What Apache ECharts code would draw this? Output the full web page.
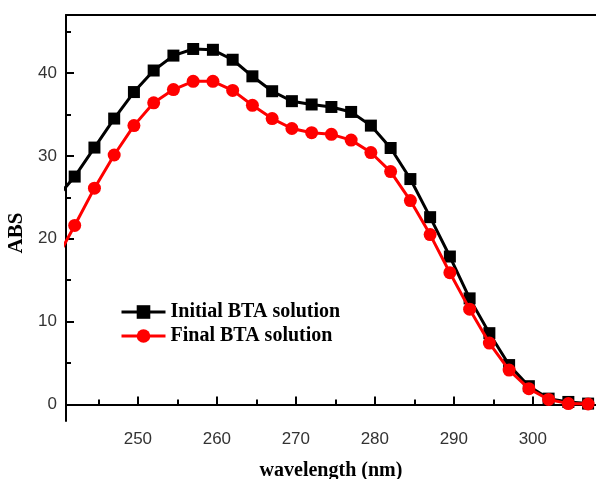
<!DOCTYPE html>
<html>
<head>
<meta charset="utf-8">
<script src="https://cdn.jsdelivr.net/npm/echarts@6/dist/echarts.min.js"></script>
<style>
  html, body { margin: 0; padding: 0; background: #fff; }
  #chart { width: 596px; height: 479px; }
</style>
</head>
<body>
<div id="chart"></div>
<script>
// wavelength (nm), one reading every 2.5 nm
var wavelength = [239.5, 242, 244.5, 247, 249.5, 252, 254.5, 257, 259.5, 262, 264.5, 267, 269.5, 272,
  274.5, 277, 279.5, 282, 284.5, 287, 289.5, 292, 294.5, 297, 299.5, 302, 304.5, 307]
var initialAbs = [24.7, 27.5, 31.0, 34.5, 37.7, 40.3, 42.1, 42.9, 42.8, 41.6, 39.6, 37.8, 36.6, 36.2,
  35.9, 35.3, 33.65, 30.95, 27.2, 22.6, 17.85, 12.8, 8.6, 4.75, 2.2, 0.7, 0.3, 0.1]
var finalAbs = [17.2, 21.6, 26.1, 30.1, 33.65, 36.4, 38.0, 39.0, 39.0, 37.9, 36.1, 34.5, 33.3, 32.8,
  32.6, 31.9, 30.4, 28.1, 24.6, 20.5, 15.9, 11.5, 7.4, 4.15, 1.9, 0.6, 0.1, 0.05]

var xTicks = [250, 260, 270, 280, 290, 300]
var xMinorTicks = [245, 255, 265, 275, 285, 295, 305]
var yTicks = [0, 10, 20, 30, 40]
var yMinorTicks = [5, 15, 25, 35, 45]

var seriesNames = ['Initial BTA solution', 'Final BTA solution']

function pairs(xs, ys) {
  return xs.map(function (x, i) { return [x, ys[i]] })
}

var serif = 'Liberation Serif'
var sans = 'Liberation Sans'
var xRange = { min: 240.9, max: 308 }
var yRange = { min: -2, max: 47 }

var chart = echarts.init(document.getElementById('chart'))
chart.setOption({
  animation: false,
  backgroundColor: '#fff',
  grid: {
    left: 66,
    right: 0,
    top: 15,
    bottom: 58,
    containLabel: false,
    outerBoundsMode: 'none'
  },
  legend: {
    orient: 'vertical',
    left: 115,
    top: 297,
    itemWidth: 44,
    itemHeight: 17,
    itemGap: 4,
    data: seriesNames,
    lineStyle: { width: 3 },
    textStyle: {
      fontFamily: serif,
      fontWeight: 'bold',
      fontSize: 20,
      color: '#000'
    }
  },
  xAxis: [{
    type: 'value',
    position: 'bottom',
    min: xRange.min,
    max: xRange.max,
    name: 'wavelength (nm)',
    nameLocation: 'middle',
    nameGap: 40,
    nameTextStyle: { fontFamily: serif, fontWeight: 'bold', fontSize: 20, color: '#000' },
    axisLine: { lineStyle: { color: '#000', width: 2 } },
    axisTick: { inside: true, length: 8, customValues: xTicks, lineStyle: { color: '#000', width: 2 } },
    axisLabel: {
      customValues: xTicks,
      margin: 10,
      fontFamily: sans,
      fontSize: 17,
      color: '#333'
    },
    splitLine: { show: false }
  }, {
    type: 'value',
    position: 'bottom',
    min: xRange.min,
    max: xRange.max,
    axisLine: { show: false },
    axisTick: { inside: true, length: 5, customValues: xMinorTicks, lineStyle: { color: '#000', width: 2 } },
    axisLabel: { show: false },
    splitLine: { show: false }
  }, {
    type: 'value',
    position: 'top',
    min: xRange.min,
    max: xRange.max,
    axisLine: { lineStyle: { color: '#000', width: 2 } },
    axisTick: { show: false },
    axisLabel: { show: false },
    splitLine: { show: false }
  }],
  yAxis: [{
    type: 'value',
    position: 'left',
    min: yRange.min,
    max: yRange.max,
    name: 'ABS',
    nameLocation: 'middle',
    nameGap: 35,
    nameTextStyle: {
      fontFamily: serif,
      fontWeight: 'bold',
      fontSize: 21,
      color: '#000',
      padding: [0, 30, 0, 0]
    },
    axisLine: { lineStyle: { color: '#000', width: 2 } },
    axisTick: { inside: true, length: 8, customValues: yTicks, lineStyle: { color: '#000', width: 2 } },
    axisLabel: {
      customValues: yTicks,
      margin: 9,
      fontFamily: sans,
      fontSize: 17,
      color: '#333'
    },
    splitLine: { show: false }
  }, {
    type: 'value',
    position: 'left',
    min: yRange.min,
    max: yRange.max,
    axisLine: { show: false },
    axisTick: { inside: true, length: 5, customValues: yMinorTicks, lineStyle: { color: '#000', width: 2 } },
    axisLabel: { show: false },
    splitLine: { show: false }
  }],
  series: [{
    name: seriesNames[0],
    type: 'line',
    xAxisIndex: 0,
    yAxisIndex: 0,
    data: pairs(wavelength, initialAbs),
    symbol: 'rect',
    symbolSize: 12,
    showAllSymbol: true,
    itemStyle: { color: '#000' },
    lineStyle: { color: '#000', width: 3 },
    z: 2
  }, {
    name: seriesNames[1],
    type: 'line',
    xAxisIndex: 0,
    yAxisIndex: 0,
    data: pairs(wavelength, finalAbs),
    symbol: 'circle',
    symbolSize: 13,
    showAllSymbol: true,
    itemStyle: { color: '#f00' },
    lineStyle: { color: '#f00', width: 3 },
    z: 3
  }]
})
</script>
</body>
</html>
